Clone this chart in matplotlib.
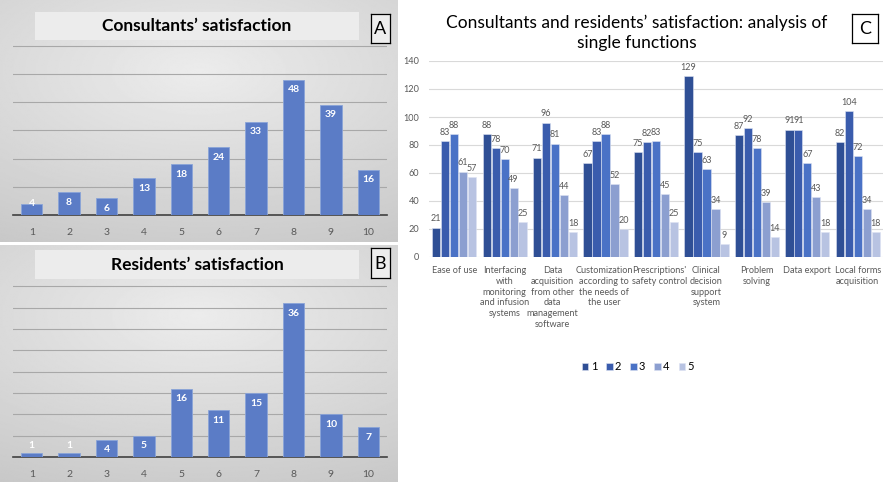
import matplotlib.pyplot as plt
import matplotlib.transforms as mtransforms
import numpy as np

plt.rcParams['font.family'] = ['Lato', 'DejaVu Sans']

W, H = 894, 486

# panel A / B data
scores = [1, 2, 3, 4, 5, 6, 7, 8, 9, 10]
consultants = [4, 8, 6, 13, 18, 24, 33, 48, 39, 16]
residents = [1, 1, 4, 5, 16, 11, 15, 36, 10, 7]

# panel C data
functions = ["Ease of use",
             "Interfacing\nwith\nmonitoring\nand infusion\nsystems",
             "Data\nacquisition\nfrom other\ndata\nmanagement\nsoftware",
             "Customization\naccording to\nthe needs of\nthe user",
             "Prescriptions'\nsafety control",
             "Clinical\ndecision\nsupport\nsystem",
             "Problem\nsolving",
             "Data export",
             "Local forms\nacquisition"]
rating1 = [21, 88, 71, 67, 75, 129, 87, 91, 82]
rating2 = [83, 78, 96, 83, 82, 75, 92, 91, 104]
rating3 = [88, 70, 81, 88, 83, 63, 78, 67, 72]
rating4 = [61, 49, 44, 52, 45, 34, 39, 43, 34]
rating5 = [57, 25, 18, 20, 25, 9, 14, 18, 18]
series_names = ["1", "2", "3", "4", "5"]


def box(x0, y0, x1, y1):
    return [x0 / W, 1 - y1 / H, (x1 - x0) / W, (y1 - y0) / H]


fig = plt.figure(figsize=(W / 100, H / 100), dpi=100)


# light gray gradient background for A and B
def gradient_bg(rect):
    bg = fig.add_axes(box(*rect), zorder=0)
    yy, xx = np.mgrid[0:1:200j, 0:1:300j]
    r = np.sqrt((xx - 0.5) ** 2 + ((yy - 0.3) / 0.8) ** 2)
    g = np.clip(0.925 - 0.14 * r, 0, 1)
    bg.imshow(g, cmap='gray', vmin=0, vmax=1, aspect='auto', extent=[0, 1, 1, 0])
    bg.set_axis_off()


gradient_bg((0, 0, 398, 242))
gradient_bg((0, 245, 398, 482))


def small_panel(rect, values, ymax, step, title, letter, title_rect, letter_rect):
    ax = fig.add_axes(box(*rect), zorder=2)
    ax.patch.set_alpha(0)
    bars = ax.bar(scores, values, width=0.57, color='#5b7cc6', edgecolor='#8aa4d8', linewidth=0.6, zorder=3)
    ax.set_xlim(0.5, 10.5)
    ax.set_ylim(0, ymax)
    ax.set_yticks(np.arange(step, ymax, step))
    ax.yaxis.grid(True, color='#a8a8a8', linewidth=0.8)
    ax.set_axisbelow(True)
    ax.tick_params(left=False, labelleft=False, bottom=False, labelsize=7.5, labelcolor='#595959', pad=6)
    ax.set_xticks(scores)
    for s in ['top', 'right', 'left']:
        ax.spines[s].set_visible(False)
    ax.spines['bottom'].set_color('#404040')
    ax.spines['bottom'].set_linewidth(1.2)
    ppu = rect[3] - rect[1]
    for b, v in zip(bars, values):
        hpx = v / ymax * ppu
        if hpx > 16:
            off, va = -4, 'top'
        elif hpx > 8:
            off, va = 0, 'center'
        else:
            off, va = 2, 'bottom'
        ax.annotate(str(v), (b.get_x() + b.get_width() / 2, v), xytext=(0, off),
                    textcoords='offset points', ha='center', va=va,
                    color='white', fontsize=7.5, fontweight='bold', zorder=4)
    tb = fig.add_axes(box(*title_rect), zorder=3)
    tb.set_facecolor('#ececec')
    tb.set_xticks([])
    tb.set_yticks([])
    for s in tb.spines.values():
        s.set_visible(False)
    tb.text(0.5, 0.5, title, ha='center', va='center', fontsize=12.5, fontweight='bold')
    lb = fig.add_axes(box(*letter_rect), zorder=3)
    lb.set_facecolor('#ededed')
    lb.set_xticks([])
    lb.set_yticks([])
    for s in lb.spines.values():
        s.set_linewidth(0.9)
    lb.text(0.5, 0.48, letter, ha='center', va='center', fontsize=13)


small_panel((13, 40, 387, 215), consultants, 62, 10, "Consultants\u2019 satisfaction", "A",
            (35, 12, 359, 40), (371, 14, 390, 43))
small_panel((13, 282, 387, 457), residents, 41, 5, "Residents\u2019 satisfaction", "B",
            (35, 250, 359, 279), (371, 248, 390, 278))

# panel C
ax = fig.add_axes(box(429, 61, 883, 257), zorder=2)
x = np.arange(len(functions))
width = 0.178
colors = ['#2f4f95', '#3a5cad', '#4a72c6', '#8c9fd0', '#b8c3e2']
all_series = [rating1, rating2, rating3, rating4, rating5]
for i, (vals, c, name) in enumerate(zip(all_series, colors, series_names)):
    pos = x + (i - 2) * width
    bars = ax.bar(pos, vals, width=width * 0.92, color=c, edgecolor='#dde3f2', linewidth=0.4, label=name, zorder=3)
    for b, v in zip(bars, vals):
        ax.annotate(str(v), (b.get_x() + b.get_width() / 2, v), xytext=(0, 3),
                    textcoords='offset points', ha='center', va='bottom',
                    color='#595959', fontsize=6.5)
ax.set_xlim(-0.5, len(functions) - 0.5)
ax.set_ylim(0, 140)
ax.set_yticks(np.arange(0, 141, 20))
ax.yaxis.grid(True, color='#d9d9d9', linewidth=0.8)
ax.set_axisbelow(True)
for s in ['top', 'right', 'left', 'bottom']:
    ax.spines[s].set_visible(False)
ax.set_xticks(x)
ax.set_xticklabels(functions, fontsize=5.9, color='#595959', linespacing=1.25)
ax.tick_params(left=False, bottom=False, labelsize=6.6, labelcolor='#595959')
ax.tick_params(axis='x', pad=3)
# nudge the widest neighbouring labels apart a little
labels = ax.get_xticklabels()
for idx, dx in [(2, -2.0), (3, -1.2), (4, 2.5)]:
    shift = mtransforms.ScaledTranslation(dx / 72, 0, fig.dpi_scale_trans)
    labels[idx].set_transform(labels[idx].get_transform() + shift)
ax.legend(loc='upper center', bbox_to_anchor=(0.46, -0.48), ncol=5, frameon=False,
          fontsize=8, handlelength=0.6, handleheight=0.6, handletextpad=0.2, columnspacing=0.8)

fig.text(637 / W, 1 - 33 / H, "Consultants and residents\u2019 satisfaction: analysis of\nsingle functions",
         ha='center', va='center', fontsize=12.5, linespacing=1.3)
lc = fig.add_axes(box(852, 14, 878, 43), zorder=3)
lc.set_xticks([])
lc.set_yticks([])
for s in lc.spines.values():
    s.set_linewidth(0.9)
lc.text(0.5, 0.48, "C", ha='center', va='center', fontsize=13)

fig.savefig('out.png', dpi=100)
